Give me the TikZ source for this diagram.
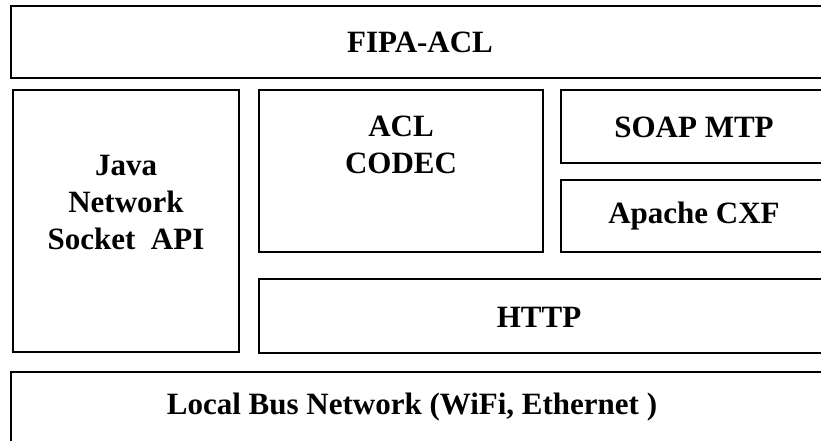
\documentclass[tikz,border=0pt]{standalone}
\usepackage{fontspec}
\setmainfont{Liberation Serif}
\tikzset{
  layer/.style={draw=black, line width=2pt, fill=none},
  lbl/.style={font=\bfseries\fontsize{31}{37}\selectfont, align=center, inner sep=0pt}
}
\begin{document}
\begin{tikzpicture}[x=1pt,y=-1pt]
\useasboundingbox (0,0) rectangle (821,441);
\clip (0,0) rectangle (821,441);
% boxes
\draw[layer] (11,6) rectangle (835,78);
\draw[layer] (13,90) rectangle (239,352);
\draw[layer] (259,90) rectangle (543,252);
\draw[layer] (561,90) rectangle (835,163);
\draw[layer] (561,180) rectangle (835,252);
\draw[layer] (259,279) rectangle (835,353);
\draw[layer] (11,372) rectangle (835,470);
% labels
\node[lbl] (fipa) at (420,42) {FIPA-ACL};
\node[lbl] (java) at (126,203) {Java\\Network\\Socket\ \ API};
\node[lbl] (acl) at (401,145) {ACL\\CODEC};
\node[lbl] (soap) at (694,127) {SOAP MTP};
\node[lbl] (cxf) at (694,216) {Apache CXF};
\node[lbl] (http) at (539,317) {HTTP};
\node[lbl] (bus) at (412,407) {Local Bus Network (WiFi, Ethernet )};
\end{tikzpicture}
\end{document}
